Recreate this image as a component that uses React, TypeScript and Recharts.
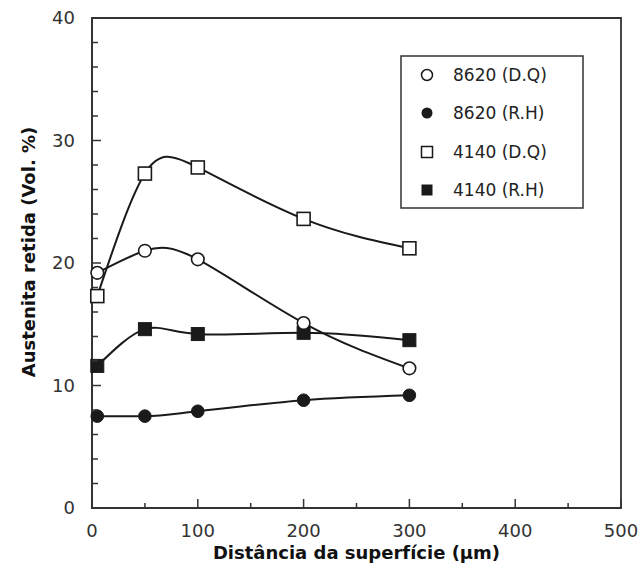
import React from "react";
import { ComposedChart, Line, XAxis, YAxis, ReferenceArea, Legend } from "recharts";

const distances = [5, 50, 100, 200, 300];
const dq8620 = [19.2, 21.0, 20.3, 15.1, 11.4];
const rh8620 = [7.5, 7.5, 7.9, 8.8, 9.2];
const dq4140 = [17.3, 27.3, 27.8, 23.6, 21.2];
const rh4140 = [11.6, 14.6, 14.2, 14.3, 13.7];

const seriesNames = ["8620 (D.Q)", "8620 (R.H)", "4140 (D.Q)", "4140 (R.H)"];
const xTicks = [0, 50, 100, 150, 200, 250, 300, 350, 400, 450, 500];
const xMajor = [0, 100, 200, 300, 400, 500];
const yTicks = [0, 2, 4, 6, 8, 10, 12, 14, 16, 18, 20, 22, 24, 26, 28, 30, 32, 34, 36, 38, 40];
const yMajor = [0, 10, 20, 30, 40];

const data = distances.map((d, i) => ({
  x: d,
  a: dq8620[i],
  b: rh8620[i],
  c: dq4140[i],
  e: rh4140[i],
}));

const INK = "#1a1a1a";
const FONT = "'DejaVu Sans', 'Liberation Sans', Arial, sans-serif";

const OpenCircle = (p: any) => (
  <circle key={`oc-${p.index}`} cx={p.cx} cy={p.cy} r={6.3} fill="#fff" stroke={INK} strokeWidth={1.6} />
);
const FilledCircle = (p: any) => (
  <circle key={`fc-${p.index}`} cx={p.cx} cy={p.cy} r={6.3} fill={INK} stroke={INK} strokeWidth={1} />
);
const OpenSquare = (p: any) => (
  <rect key={`os-${p.index}`} x={p.cx - 6.5} y={p.cy - 6.5} width={13} height={13} fill="#fff" stroke={INK} strokeWidth={1.6} />
);
const FilledSquare = (p: any) => (
  <rect key={`fs-${p.index}`} x={p.cx - 6.5} y={p.cy - 6.5} width={13} height={13} fill={INK} stroke={INK} strokeWidth={1} />
);

const XTick = (p: any) => {
  const { x, y, payload } = p;
  const major = xMajor.includes(payload.value);
  return (
    <g>
      <line x1={x} y1={y} x2={x} y2={y - (major ? 9 : 5)} stroke="#333" strokeWidth={1.5} />
      {major && (
        <text x={x} y={y + 29} textAnchor="middle" fontFamily={FONT} fontSize={18} fill="#333">
          {payload.value}
        </text>
      )}
    </g>
  );
};

const YTick = (p: any) => {
  const { x, y, payload } = p;
  const major = yMajor.includes(payload.value);
  return (
    <g>
      <line x1={x} y1={y} x2={x + (major ? 9 : 6)} y2={y} stroke="#333" strokeWidth={1.5} />
      {major && (
        <text x={x - 17} y={y + 6} textAnchor="end" fontFamily={FONT} fontSize={18} fill="#333">
          {payload.value}
        </text>
      )}
    </g>
  );
};

const markers = [
  (cx: number, cy: number) => <circle cx={cx} cy={cy} r={5.5} fill="#fff" stroke={INK} strokeWidth={1.5} />,
  (cx: number, cy: number) => <circle cx={cx} cy={cy} r={5.5} fill={INK} />,
  (cx: number, cy: number) => <rect x={cx - 5.5} y={cy - 5.5} width={11} height={11} fill="#fff" stroke={INK} strokeWidth={1.5} />,
  (cx: number, cy: number) => <rect x={cx - 5.5} y={cy - 5.5} width={11} height={11} fill={INK} />,
];

const LegendBox = () => {
  const rows = [20, 58, 97, 135];
  return (
    <svg width={184} height={154}>
      <rect x={1} y={1} width={182} height={152} fill="#fff" stroke="#333" strokeWidth={1.5} />
      {seriesNames.map((n, i) => (
        <g key={n}>
          {markers[i](27, rows[i])}
          <text x={53} y={rows[i] + 6} fontFamily={FONT} fontSize={17} fill="#222">
            {n}
          </text>
        </g>
      ))}
    </svg>
  );
};

export default function App() {
  return (
    <div style={{ position: "absolute", left: 0, top: 0, background: "#fff" }}>
      <ComposedChart
        width={643}
        height={571}
        data={data}
        margin={{ top: 18, right: 22, bottom: 0, left: 0 }}
      >
        <XAxis
          dataKey="x"
          type="number"
          domain={[0, 500]}
          ticks={xTicks}
          interval={0}
          tickSize={0}
          tickMargin={0}
          height={63}
          axisLine={{ stroke: "#333", strokeWidth: 1.8 }}
          tickLine={false}
          tick={<XTick />}
          label={{
            content: (props: any) => {
              const vb = props.viewBox;
              return (
                <text x={vb.x + vb.width / 2} y={559} textAnchor="middle" fontFamily={FONT} fontWeight="bold" fontSize={18} fill="#111">
                  Distância da superfície (μm)
                </text>
              );
            },
          }}
        />
        <YAxis
          type="number"
          domain={[0, 40]}
          ticks={yTicks}
          interval={0}
          tickSize={0}
          tickMargin={0}
          width={92}
          axisLine={{ stroke: "#333", strokeWidth: 1.8 }}
          tickLine={false}
          tick={<YTick />}
          label={{
            content: () => (
              <text x={35} y={252} transform="rotate(-90 35 252)" textAnchor="middle" fontFamily={FONT} fontWeight="bold" fontSize={18} fill="#111">
                Austenita retida (Vol. %)
              </text>
            ),
          }}
        />
        <ReferenceArea x1={0} x2={500} y1={0} y2={40} fill="none" fillOpacity={0} stroke="#333" strokeWidth={1.8} />
        <Legend
          layout="vertical"
          align="center"
          verticalAlign="middle"
          content={<LegendBox />}
          wrapperStyle={{ position: "absolute", left: 400, top: 55, width: 184, height: 154 }}
        />
        <Line dataKey="b" name={seriesNames[1]} type="monotone" stroke={INK} strokeWidth={2} dot={FilledCircle} isAnimationActive={false} />
        <Line dataKey="e" name={seriesNames[3]} type="natural" stroke={INK} strokeWidth={2} dot={FilledSquare} isAnimationActive={false} />
        <Line dataKey="a" name={seriesNames[0]} type="natural" stroke={INK} strokeWidth={2} dot={OpenCircle} isAnimationActive={false} />
        <Line dataKey="c" name={seriesNames[2]} type="natural" stroke={INK} strokeWidth={2} dot={OpenSquare} isAnimationActive={false} />
      </ComposedChart>
    </div>
  );
}
